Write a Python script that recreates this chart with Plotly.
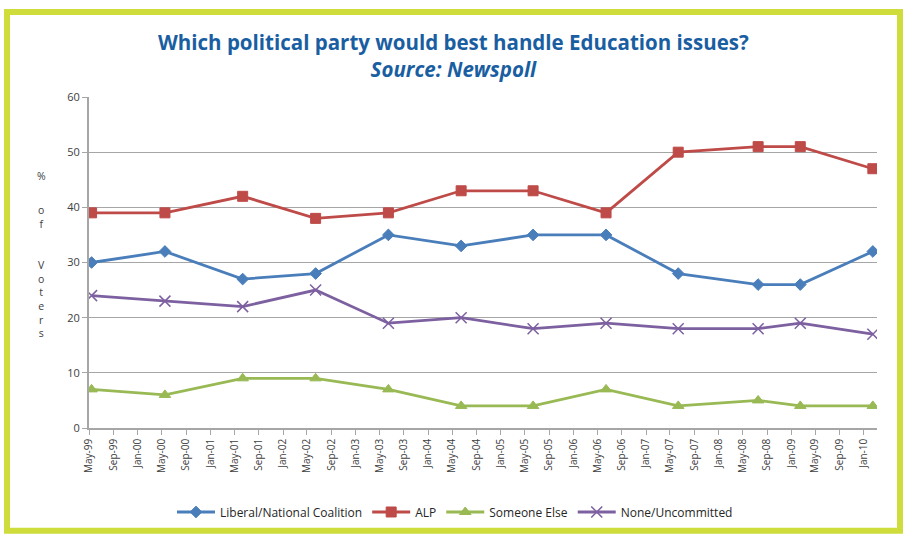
import plotly.graph_objects as go

# ---- data ----
survey_dates = ["1999-05-14", "2000-05-17", "2001-06-12", "2002-06-14", "2003-06-15",
                "2004-06-15", "2005-06-12", "2006-06-14", "2007-06-12", "2008-07-18",
                "2009-02-15", "2010-02-15"]
liberal = [30, 32, 27, 28, 35, 33, 35, 35, 28, 26, 26, 32]
alp = [39, 39, 42, 38, 39, 43, 43, 39, 50, 51, 51, 47]
someone_else = [7, 6, 9, 9, 7, 4, 4, 7, 4, 5, 4, 4]
none_uncommitted = [24, 23, 22, 25, 19, 20, 18, 19, 18, 18, 19, 17]

series_names = ["Liberal/National Coalition", "ALP", "Someone Else", "None/Uncommitted"]
title_text = "Which political party would best handle Education issues?"
subtitle_text = "Source: Newspoll"
ylabel_groups = ["%", "o<br>f", "V<br>o<br>t<br>e<br>r<br>s"]

# ---- layout constants (pixels) ----
W, H = 907, 539
L, R, T, B = 89, 30, 97, 107
PW, PH = W - L - R, H - T - B


def px_x(x):
    return (x - L) / PW


def px_y(y):
    return (H - B - y) / PH


styles = [
    dict(color="#4A7EBB", symbol="diamond", size=9, lw=1),
    dict(color="#BE4B48", symbol="square", size=10, lw=1),
    dict(color="#98B954", symbol="triangle-up", size=10, lw=1),
    dict(color="#7D60A0", symbol="x-thin", size=11, lw=1.5),
]
series = [liberal, alp, someone_else, none_uncommitted]

fig = go.Figure()
for name, vals, st in zip(series_names, series, styles):
    fig.add_trace(go.Scatter(
        x=survey_dates, y=vals, name=name, mode="lines+markers",
        line=dict(color=st["color"], width=2.8),
        marker=dict(symbol=st["symbol"], size=st["size"], color=st["color"],
                    line=dict(color=st["color"], width=st["lw"])),
    ))

fig.update_layout(
    width=W, height=H,
    margin=dict(l=L, r=R, t=T, b=B),
    paper_bgcolor="white", plot_bgcolor="white",
    font=dict(family="Open Sans, sans-serif", color="#404040"),
    showlegend=True,
    legend=dict(orientation="h", x=px_x(455), y=px_y(517), xanchor="center", yanchor="middle",
                font=dict(size=12, color="#262626", family="Open Sans, sans-serif"),
                itemwidth=38, tracegroupgap=0, bgcolor="rgba(0,0,0,0)"),
)

fig.update_xaxes(
    type="date", range=["1999-05-01", "2010-03-08"],
    tick0="1999-05-01", dtick="M4", tickformat="%b-%y", tickangle=-90,
    showgrid=False, showline=True, linecolor="#A6A6A6", linewidth=1.5,
    ticks="outside", ticklen=5, tickcolor="#A6A6A6", tickwidth=1,
    tickfont=dict(size=10, color="#404040", family="Open Sans, sans-serif"),
    zeroline=False,
)
fig.update_yaxes(
    range=[0, 60], dtick=10, showgrid=True, gridcolor="#A6A6A6", gridwidth=1.2,
    showline=True, linecolor="#A6A6A6", linewidth=2,
    ticks="outside", ticklen=5, tickcolor="#A6A6A6",
    tickfont=dict(size=11, color="#404040", family="Open Sans, sans-serif"),
    zeroline=False,
)

# title + subtitle (one text block, two lines)
fig.add_annotation(text="<b>" + title_text + "</b><br><b><i>" + subtitle_text + "</i></b>",
                   xref="paper", yref="paper", x=px_x(453), y=px_y(55),
                   showarrow=False, xanchor="center", yanchor="middle", align="center",
                   font=dict(size=20.5, color="#1A5EA2", family="Open Sans, sans-serif"))

# vertical stacked y label
group_y = [177, 218, 301]
for txt, yy in zip(ylabel_groups, group_y):
    fig.add_annotation(text=txt, xref="paper", yref="paper", x=px_x(41), y=px_y(yy),
                       showarrow=False, xanchor="center", yanchor="middle",
                       font=dict(size=10.5, color="#404040", family="Open Sans, sans-serif"))

# lime frame
fig.add_shape(type="rect", xref="paper", yref="paper",
              x0=px_x(7), x1=px_x(900), y0=px_y(536), y1=px_y(11),
              line=dict(color="#CEDD3C", width=6), fillcolor="rgba(0,0,0,0)", layer="above")

fig.write_html("out.html", config={"displayModeBar": False},
               post_script="document.body.style.margin='0';")
